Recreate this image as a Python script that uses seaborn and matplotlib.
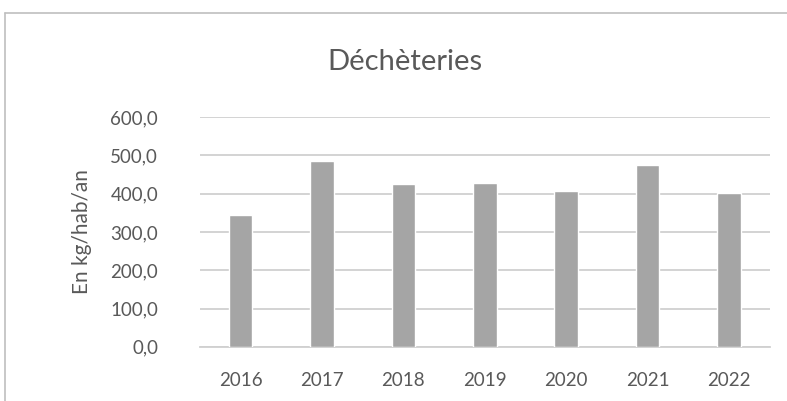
import matplotlib
matplotlib.use('Agg')
import matplotlib.pyplot as plt
import seaborn as sns
import pandas as pd
from matplotlib.ticker import FuncFormatter

# Data
years = ['2016', '2017', '2018', '2019', '2020', '2021', '2022']
values = [345, 485, 424, 427, 408, 474, 402]

df = pd.DataFrame({'Année': years, 'kg': values})

sns.set_theme(style='white')
plt.rcParams['font.family'] = ['Lato', 'DejaVu Sans']

fig = plt.figure(figsize=(7.87, 4.01), dpi=100)
ax = fig.add_axes([0.254, 0.135, 0.724, 0.573])

sns.barplot(data=df, x='Année', y='kg', color='#a5a5a5', saturation=1,
            width=0.29, ax=ax, zorder=3)

ax.set_ylim(0, 600)
ax.set_yticks(range(0, 601, 100))
ax.yaxis.set_major_formatter(FuncFormatter(lambda v, p: f'{v:.1f}'.replace('.', ',')))
ax.grid(axis='y', color='#d0d0d0', linewidth=1.3, zorder=0)
ax.grid(axis='x', visible=False)
for s in ['top', 'right', 'left']:
    ax.spines[s].set_visible(False)
ax.spines['bottom'].set_color('#d0d0d0')
ax.spines['bottom'].set_linewidth(1.3)

ax.tick_params(axis='both', length=0, labelsize=13.5, labelcolor='#595959')
ax.tick_params(axis='y', pad=30)
ax.tick_params(axis='x', pad=18)
ax.set_xlabel('')
ax.set_ylabel('En kg/hab/an', fontsize=15, color='#595959')
ax.yaxis.set_label_coords(-0.19, 0.5)

fig.text(0.515, 0.845, 'Déchèteries', ha='center', va='center',
         fontsize=21, color='#595959')

# chart-area border (top and left visible in the crop)
fig.add_artist(plt.Line2D([0.006, 1.0], [0.968, 0.968], color='#bfbfbf', lw=1.2))
fig.add_artist(plt.Line2D([0.006, 0.006], [0.0, 0.968], color='#bfbfbf', lw=1.2))

fig.savefig('out.png', dpi=100, facecolor='white')
